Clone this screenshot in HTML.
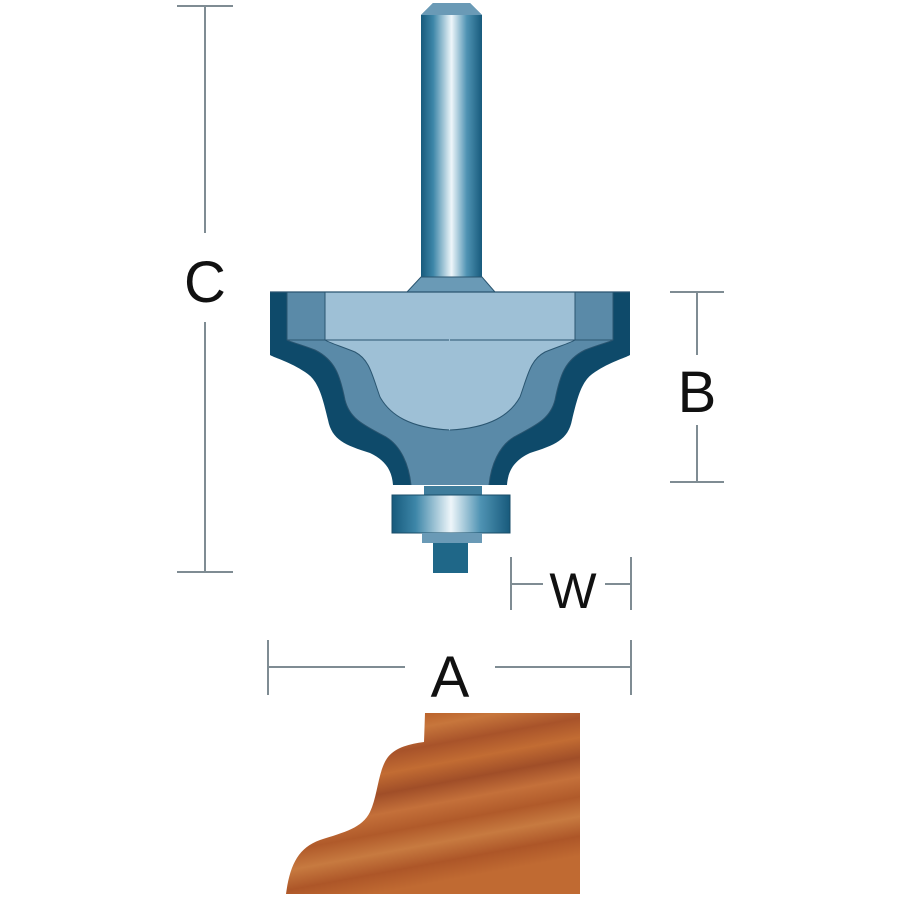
<!DOCTYPE html>
<html><head><style>
html,body{margin:0;padding:0;background:#fff;}
svg{display:block;}
text{font-family:"Liberation Sans",sans-serif;fill:#111;}
</style></head><body>
<svg width="900" height="900" viewBox="0 0 900 900" xmlns="http://www.w3.org/2000/svg">
<defs>
<linearGradient id="sh" x1="0" x2="1" y1="0" y2="0">
<stop offset="0" stop-color="#175a7c"/><stop offset="0.2" stop-color="#3d86a8"/><stop offset="0.5" stop-color="#eef6fa"/><stop offset="0.75" stop-color="#4f93b3"/><stop offset="1" stop-color="#175a7c"/>
</linearGradient>
<linearGradient id="wood" x1="0" x2="0.3" y1="0" y2="1">
<stop offset="0" stop-color="#c06a30"/><stop offset="0.1" stop-color="#b55a24"/><stop offset="0.2" stop-color="#c7763c"/><stop offset="0.3" stop-color="#a8532a"/><stop offset="0.4" stop-color="#c26c33"/><stop offset="0.5" stop-color="#a04e28"/><stop offset="0.6" stop-color="#c4703a"/><stop offset="0.7" stop-color="#b05a2a"/><stop offset="0.8" stop-color="#c77a40"/><stop offset="0.9" stop-color="#ad5628"/><stop offset="1" stop-color="#c06a32"/>
</linearGradient>
<g id="half">
<path d="M270,292 L451,292 L451,485 L393,485 C392,470 385,460 370,453 C345,445 332,440 328,420 C322,395 318,380 305,372 C290,362 275,358 270,355 Z" fill="#0e4a6a"/>
<path d="M287,292 L451,292 L451,485 L411,485 C409,465 401,446 386,437 C366,426 350,420 345,400 C340,375 335,360 315,350 C300,344 290,342 287,340 Z" fill="#5a8aa8"/>
<path d="M325,292 L451,292 L451,430 C410,428 390,415 380,397 C372,375 370,360 355,352 C340,346 330,343 325,340 Z" fill="#9ec0d6"/>
<g fill="none" stroke="#2a5570" stroke-width="1">
<path d="M411,485 C409,465 401,446 386,437 C366,426 350,420 345,400 C340,375 335,360 315,350 C300,344 290,342 287,340 L287,292"/>
<path d="M450,430 C410,428 390,415 380,397 C372,375 370,360 355,352 C340,346 330,343 325,340 L325,292"/>
<line x1="287" y1="340" x2="450" y2="340"/>
</g>
</g>
</defs>
<!-- shank -->
<path d="M433,3 L470,3 L482,15 L482,277 L421,277 L421,15 Z" fill="url(#sh)"/>
<path d="M433,3 L470,3 L482,15 L421,15 Z" fill="#6a9ab6"/>
<path d="M421,277 L482,277 L495,292 L407,292 Z" fill="#6a9ab6" stroke="#2a5570" stroke-width="1"/>
<!-- body -->
<use href="#half"/>
<use href="#half" transform="translate(900,0) scale(-1,1)"/>
<line x1="270" y1="292" x2="630" y2="292" stroke="#2a5570" stroke-width="1.2"/>
<!-- bearing -->
<rect x="424" y="486" width="58" height="9" fill="#3f7d9c"/>
<rect x="392" y="495" width="118" height="38" fill="url(#sh)" stroke="#1a4d68" stroke-width="1"/>
<rect x="422" y="533" width="60" height="10" fill="#6a9ab6"/>
<rect x="433" y="543" width="35" height="30" fill="#1f6788"/>
<!-- dimension lines -->
<g stroke="#7f8c93" stroke-width="2" fill="none">
<line x1="177" y1="6" x2="233" y2="6"/><line x1="177" y1="572" x2="233" y2="572"/>
<line x1="205" y1="6" x2="205" y2="233"/><line x1="205" y1="322" x2="205" y2="572"/>
<line x1="670" y1="292" x2="724" y2="292"/><line x1="670" y1="482" x2="724" y2="482"/>
<line x1="697" y1="292" x2="697" y2="355"/><line x1="697" y1="425" x2="697" y2="482"/>
<line x1="511" y1="557" x2="511" y2="610"/><line x1="631" y1="557" x2="631" y2="610"/>
<line x1="511" y1="584" x2="543" y2="584"/><line x1="605" y1="584" x2="631" y2="584"/>
<line x1="268" y1="640" x2="268" y2="695"/><line x1="631" y1="640" x2="631" y2="695"/>
<line x1="268" y1="667" x2="405" y2="667"/><line x1="495" y1="667" x2="631" y2="667"/>
</g>
<text x="205" y="302" font-size="58" text-anchor="middle">C</text>
<text x="697" y="412" font-size="58" text-anchor="middle">B</text>
<text x="573" y="608" font-size="50" text-anchor="middle">W</text>
<text x="450" y="697" font-size="58" text-anchor="middle">A</text>
<!-- wood -->
<path d="M425,713 L580,713 L580,894 L286,894 C290,865 298,848 320,840 C345,832 362,828 370,812 C378,795 378,770 388,757 C396,747 410,744 424,742 Z" fill="url(#wood)"/>
</svg>
</body></html>
